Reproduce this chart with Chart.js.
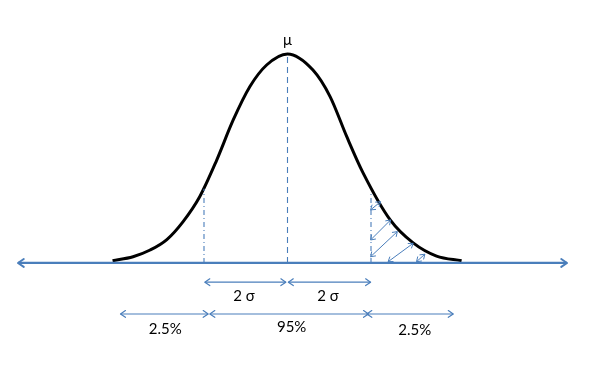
<!DOCTYPE html>
<html lang="en">
<head>
  <meta charset="UTF-8">
  <title>Normal Distribution</title>
  <script src="https://cdn.jsdelivr.net/npm/chart.js"></script>
  <style>
    * {
      margin: 0;
      padding: 0;
      box-sizing: border-box;
    }
    body {
      background-color: #ffffff;
    }
    .chart-container {
      width: 597px;
      height: 370px;
    }
  </style>
</head>
<body>
  <div class="chart-container">
    <canvas id="bellChart"></canvas>
  </div>

  <script>
    // x in units of sigma (mu = 0), y relative to the peak height
    const curveX = [-4.19, -3.70, -3.29, -2.89, -2.50, -2.10, -1.70, -1.30, -0.90, -0.50, 0, 0.61, 1.02, 1.42, 1.81, 2.46, 3.01, 3.57, 4.17];
    const curveY = [0.011, 0.030, 0.062, 0.112, 0.198, 0.318, 0.490, 0.684, 0.844, 0.947, 1.0, 0.923, 0.796, 0.604, 0.431, 0.206, 0.096, 0.033, 0.011];

    const axisX = [-6.455, 6.695];

    const meanTop = 0.986;
    const sigmaX = [-2, 2];
    const sigmaTop = [0.355, 0.34];

    // hatching arrows in the right tail
    const hatchX1 = [1.99, 1.99, 1.99, 2.41, 3.09];
    const hatchY1 = [0.254, 0.110, 0.030, 0.006, 0.006];
    const hatchX2 = [2.23, 2.47, 2.63, 3.01, 3.29];
    const hatchY2 = [0.293, 0.206, 0.150, 0.094, 0.042];

    // dimension arrows below the axis
    const sigmaSpans = [[-1.98, -0.04], [0.02, 1.99]];
    const sigmaSpanY = -0.092;
    const pctSpans = [[-4.00, -1.90], [-1.86, 1.94], [1.90, 3.97]];
    const pctSpanY = -0.244;

    const labelText = ['μ', '2 σ', '2 σ', '2.5%', '95%', '2.5%'];
    const labelX = [0, -1.04, 0.97, -2.93, 0.10, 3.05];
    const labelY = [1.067, -0.158, -0.158, -0.316, -0.306, -0.321];

    const blue = '#4a7ebb';

    function seg(x1, y1, x2, y2, extra) {
      return Object.assign({
        data: [{ x: x1, y: y1 }, { x: x2, y: y2 }],
        borderColor: blue,
        borderWidth: 1.2,
        pointRadius: 0,
        tension: 0
      }, extra || {});
    }

    const datasets = [];

    datasets.push(seg(axisX[0], 0, axisX[1], 0, { borderWidth: 2.2, heads: 7, headWidth: 2 }));

    datasets.push(seg(0, 0, 0, meanTop, { borderDash: [6, 4], borderWidth: 1.1 }));
    sigmaX.forEach((x, i) => {
      datasets.push(seg(x, 0, x, sigmaTop[i], { borderDash: [5, 3, 1, 3], borderWidth: 1.1 }));
    });

    hatchX1.forEach((x, i) => {
      datasets.push(seg(x, hatchY1[i], hatchX2[i], hatchY2[i], { borderWidth: 1, heads: 5, headWidth: 1 }));
    });

    sigmaSpans.forEach(s => {
      datasets.push(seg(s[0], sigmaSpanY, s[1], sigmaSpanY, { heads: 6, headWidth: 1.2 }));
    });
    pctSpans.forEach(s => {
      datasets.push(seg(s[0], pctSpanY, s[1], pctSpanY, { heads: 6, headWidth: 1.2 }));
    });

    datasets.push({
      data: curveX.map((x, i) => ({ x: x, y: curveY[i] })),
      borderColor: '#000000',
      borderWidth: 3,
      pointRadius: 0,
      cubicInterpolationMode: 'monotone'
    });

    function drawHead(ctx, tx, ty, fx, fy, size) {
      const ang = Math.atan2(ty - fy, tx - fx);
      ctx.beginPath();
      ctx.moveTo(tx - size * Math.cos(ang - 0.6), ty - size * Math.sin(ang - 0.6));
      ctx.lineTo(tx, ty);
      ctx.lineTo(tx - size * Math.cos(ang + 0.6), ty - size * Math.sin(ang + 0.6));
      ctx.stroke();
    }

    const arrowPlugin = {
      id: 'arrowHeads',
      afterDatasetsDraw(chart) {
        const ctx = chart.ctx;
        ctx.save();
        ctx.setLineDash([]);
        ctx.lineCap = 'round';
        ctx.lineJoin = 'round';
        chart.data.datasets.forEach((ds, i) => {
          if (!ds.heads) return;
          const pts = chart.getDatasetMeta(i).data;
          const a = pts[0], b = pts[pts.length - 1];
          ctx.strokeStyle = ds.borderColor;
          ctx.lineWidth = ds.headWidth;
          drawHead(ctx, b.x, b.y, a.x, a.y, ds.heads);
          drawHead(ctx, a.x, a.y, b.x, b.y, ds.heads);
        });
        ctx.restore();
      }
    };

    const labelPlugin = {
      id: 'textLabels',
      afterDatasetsDraw(chart) {
        const ctx = chart.ctx;
        const xs = chart.scales.x, ys = chart.scales.y;
        ctx.save();
        ctx.fillStyle = '#000000';
        ctx.textAlign = 'center';
        ctx.textBaseline = 'middle';
        ctx.font = '15px Lato, "DejaVu Sans", sans-serif';
        labelText.forEach((t, i) => {
          ctx.fillText(t, xs.getPixelForValue(labelX[i]), ys.getPixelForValue(labelY[i]));
        });
        ctx.restore();
      }
    };

    new Chart(document.getElementById('bellChart').getContext('2d'), {
      type: 'line',
      data: { datasets: datasets },
      options: {
        responsive: true,
        maintainAspectRatio: false,
        animation: false,
        layout: { padding: 0 },
        plugins: {
          legend: { display: false },
          tooltip: { enabled: false }
        },
        scales: {
          x: { type: 'linear', display: false, min: -6.886, max: 7.413 },
          y: { type: 'linear', display: false, min: -0.512, max: 1.258 }
        }
      },
      plugins: [arrowPlugin, labelPlugin]
    });
  </script>
</body>
</html>
